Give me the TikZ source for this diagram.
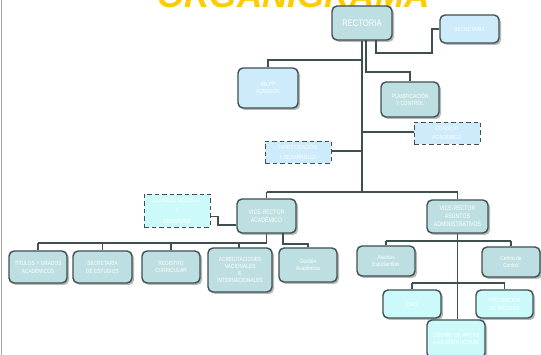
\documentclass[tikz,border=0pt]{standalone}
\usepackage{fontspec}
\setmainfont{Liberation Sans}
\newfontfamily\labfont[FakeStretch=0.8]{Liberation Sans}
\usetikzlibrary{shadows}
\definecolor{titleyellow}{HTML}{FFCC00}
\definecolor{edgegrey}{HTML}{3F5050}
\definecolor{tealfill}{HTML}{BEDFE1}
\definecolor{bluefill}{HTML}{CDEBFB}
\definecolor{cyanfill}{HTML}{CCFAFB}
\definecolor{shadowgrey}{HTML}{A8A8A8}
\tikzset{
  unit/.style={draw=edgegrey, line width=1.4pt, rounded corners=5pt, align=center,
    text=white, inner sep=1pt, font=\labfont\fontsize{6}{7.2}\selectfont,
    drop shadow={shadow xshift=2pt, shadow yshift=-2pt, fill=shadowgrey, opacity=0.8}},
  tealunit/.style={unit, fill=tealfill},
  blueunit/.style={unit, fill=bluefill},
  cyanunit/.style={unit, fill=cyanfill},
  council/.style={draw=edgegrey, line width=0.9pt, dash pattern=on 4.5pt off 3pt, align=center,
    text=white, inner sep=1pt, font=\labfont\fontsize{6}{7.2}\selectfont},
  link/.style={draw=edgegrey, line width=1.3pt},
  sz/.style n args={2}{minimum width=#1, minimum height=#2}
}
\begin{document}
\begin{tikzpicture}[x=1pt, y=-1pt]
\useasboundingbox (0,0) rectangle (541,355);
\fill[white] (0,0) rectangle (541,355);
\draw[gray!70, line width=1pt] (1,0) -- (1,355);

% heading, partly above the page
\node[anchor=base, text=titleyellow, inner sep=0pt,
      font=\fontsize{35}{35}\selectfont\bfseries\itshape] (title) at (293.5,8) {ORGANIGRAMA};

% top level
\node[tealunit, sz={60pt}{34pt}, font=\labfont\fontsize{9.5}{11}\selectfont] (rect) at (362,23) {RECTORIA};
\node[blueunit, sz={59pt}{28pt}] (secr) at (469.5,29) {SECRETARIA};
\node[blueunit, sz={60pt}{40pt}] (rrpp) at (268,88) {RR.PP\\ADMISIÓN};
\node[tealunit, sz={58pt}{35pt}] (plan) at (410,99.5) {PLANIFICACIÓN\\Y CONTROL};
\node[council, fill=bluefill, sz={66pt}{22pt}, font=\labfont\fontsize{6}{9.5}\selectfont] (cacad) at (447,133) {CONSEJO\\ACADÉMICO};
\node[council, fill=bluefill, sz={66pt}{22pt}, font=\labfont\fontsize{6}{9.5}\selectfont] (invest) at (298,152) {INVESTIGACIÓN\\Y DESARROLLO};

% vice-rectors
\node[tealunit, sz={59pt}{34pt}, font=\labfont\fontsize{6.5}{7.8}\selectfont] (vra) at (266.5,216) {VICE-RECTOR\\ACADÉMICO};
\node[tealunit, sz={61pt}{33pt}, font=\labfont\fontsize{6.5}{7.8}\selectfont] (vraa) at (457.5,216.5) {VICE-RECTOR\\ASUNTOS\\ADMINISTRATIVOS};
\node[council, fill=cyanfill, sz={66pt}{33pt}, font=\labfont\fontsize{6}{10.5}\selectfont] (cdoc) at (177,210.5) {CONSEJO DOCENTE\\Y\\DISCIPLINA};

% academic units
\node[tealunit, sz={58pt}{32pt}] (titulos) at (38,267) {TÍTULOS Y GRADOS\\ACADÉMICOS};
\node[tealunit, sz={59pt}{32pt}] (secest) at (102.5,267) {SECRETARÍA\\DE ESTUDIOS};
\node[tealunit, sz={58pt}{32pt}] (regis) at (171,267) {REGISTRO\\CURRICULAR};
\node[tealunit, sz={64pt}{44pt}] (acred) at (240,270) {ACREDITACIONES\\NACIONALES\\E\\INTERNACIONALES};
\node[tealunit, sz={58pt}{34pt}] (gest) at (308,265) {Gestión\\Académica};

% administrative units
\node[tealunit, sz={58pt}{30pt}] (asunt) at (386,261) {Asuntos\\Estudiantiles};
\node[tealunit, sz={58pt}{30pt}] (cctrl) at (511,262) {Centro de\\Control};
\node[cyanunit, sz={58pt}{28pt}] (oirs) at (412,304) {OIRS};
\node[cyanunit, sz={57pt}{28pt}] (prev) at (504.5,304) {PREVENCIÓN\\DE RIESGOS};
\node[cyanunit, sz={58pt}{38pt}] (cai) at (456,339) {CENTRO DE APOYO\\A LA INSTRUCCIÓN};

% junction points
\coordinate (vbus) at (362,192);
\coordinate (abus) at (0,243);
\coordinate (dbus) at (0,241);
\coordinate (obus) at (0,283);

% links from the rectorate
\draw[link] (rect.south) -- (vbus);
\draw[link] (366,40) -- (366,72) -| (plan.north);
\draw[link] (376,40) -- (376,53) -- (432,53) |- (secr.west);
\draw[link] (362,60) -| (rrpp.north);
\draw[link] (362,132) -- (cacad.west |- 0,132);
\draw[link] (invest.east |- 0,151) -- (362,151);
\draw[link] (vra.north |- vbus) -- (vraa.north |- vbus);
\draw[link] (vra.north |- vbus) -- (vra.north);
\draw[link] (vraa.north |- vbus) -- (vraa.north);
\draw[link] (cdoc.east |- 0,216.5) -- (218,216.5) -- (218,225) -- (vra.west |- 0,225);

% academic branch
\draw[link] (vra.south) -- (vra.south |- abus);
\draw[link] (titulos.north |- abus) -- (vra.south |- abus);
\foreach \n in {titulos, secest, regis} \draw[link] (\n.north |- abus) -- (\n.north);
\draw[link] (239,243) -- (239,248);
\draw[link] (283,233) -- (283,244) -| (gest.north);

% administrative branch
\draw[link] (vraa.south) -- (cai.north -| vraa.south);
\draw[link] (asunt.north |- dbus) -- (cctrl.north |- dbus);
\draw[link] (asunt.north |- dbus) -- (asunt.north);
\draw[link] (cctrl.north |- dbus) -- (cctrl.north);
\draw[link] (oirs.north |- obus) -- (prev.north |- obus);
\draw[link] (oirs.north |- obus) -- (oirs.north);
\draw[link] (prev.north |- obus) -- (prev.north);
\end{tikzpicture}
\end{document}
